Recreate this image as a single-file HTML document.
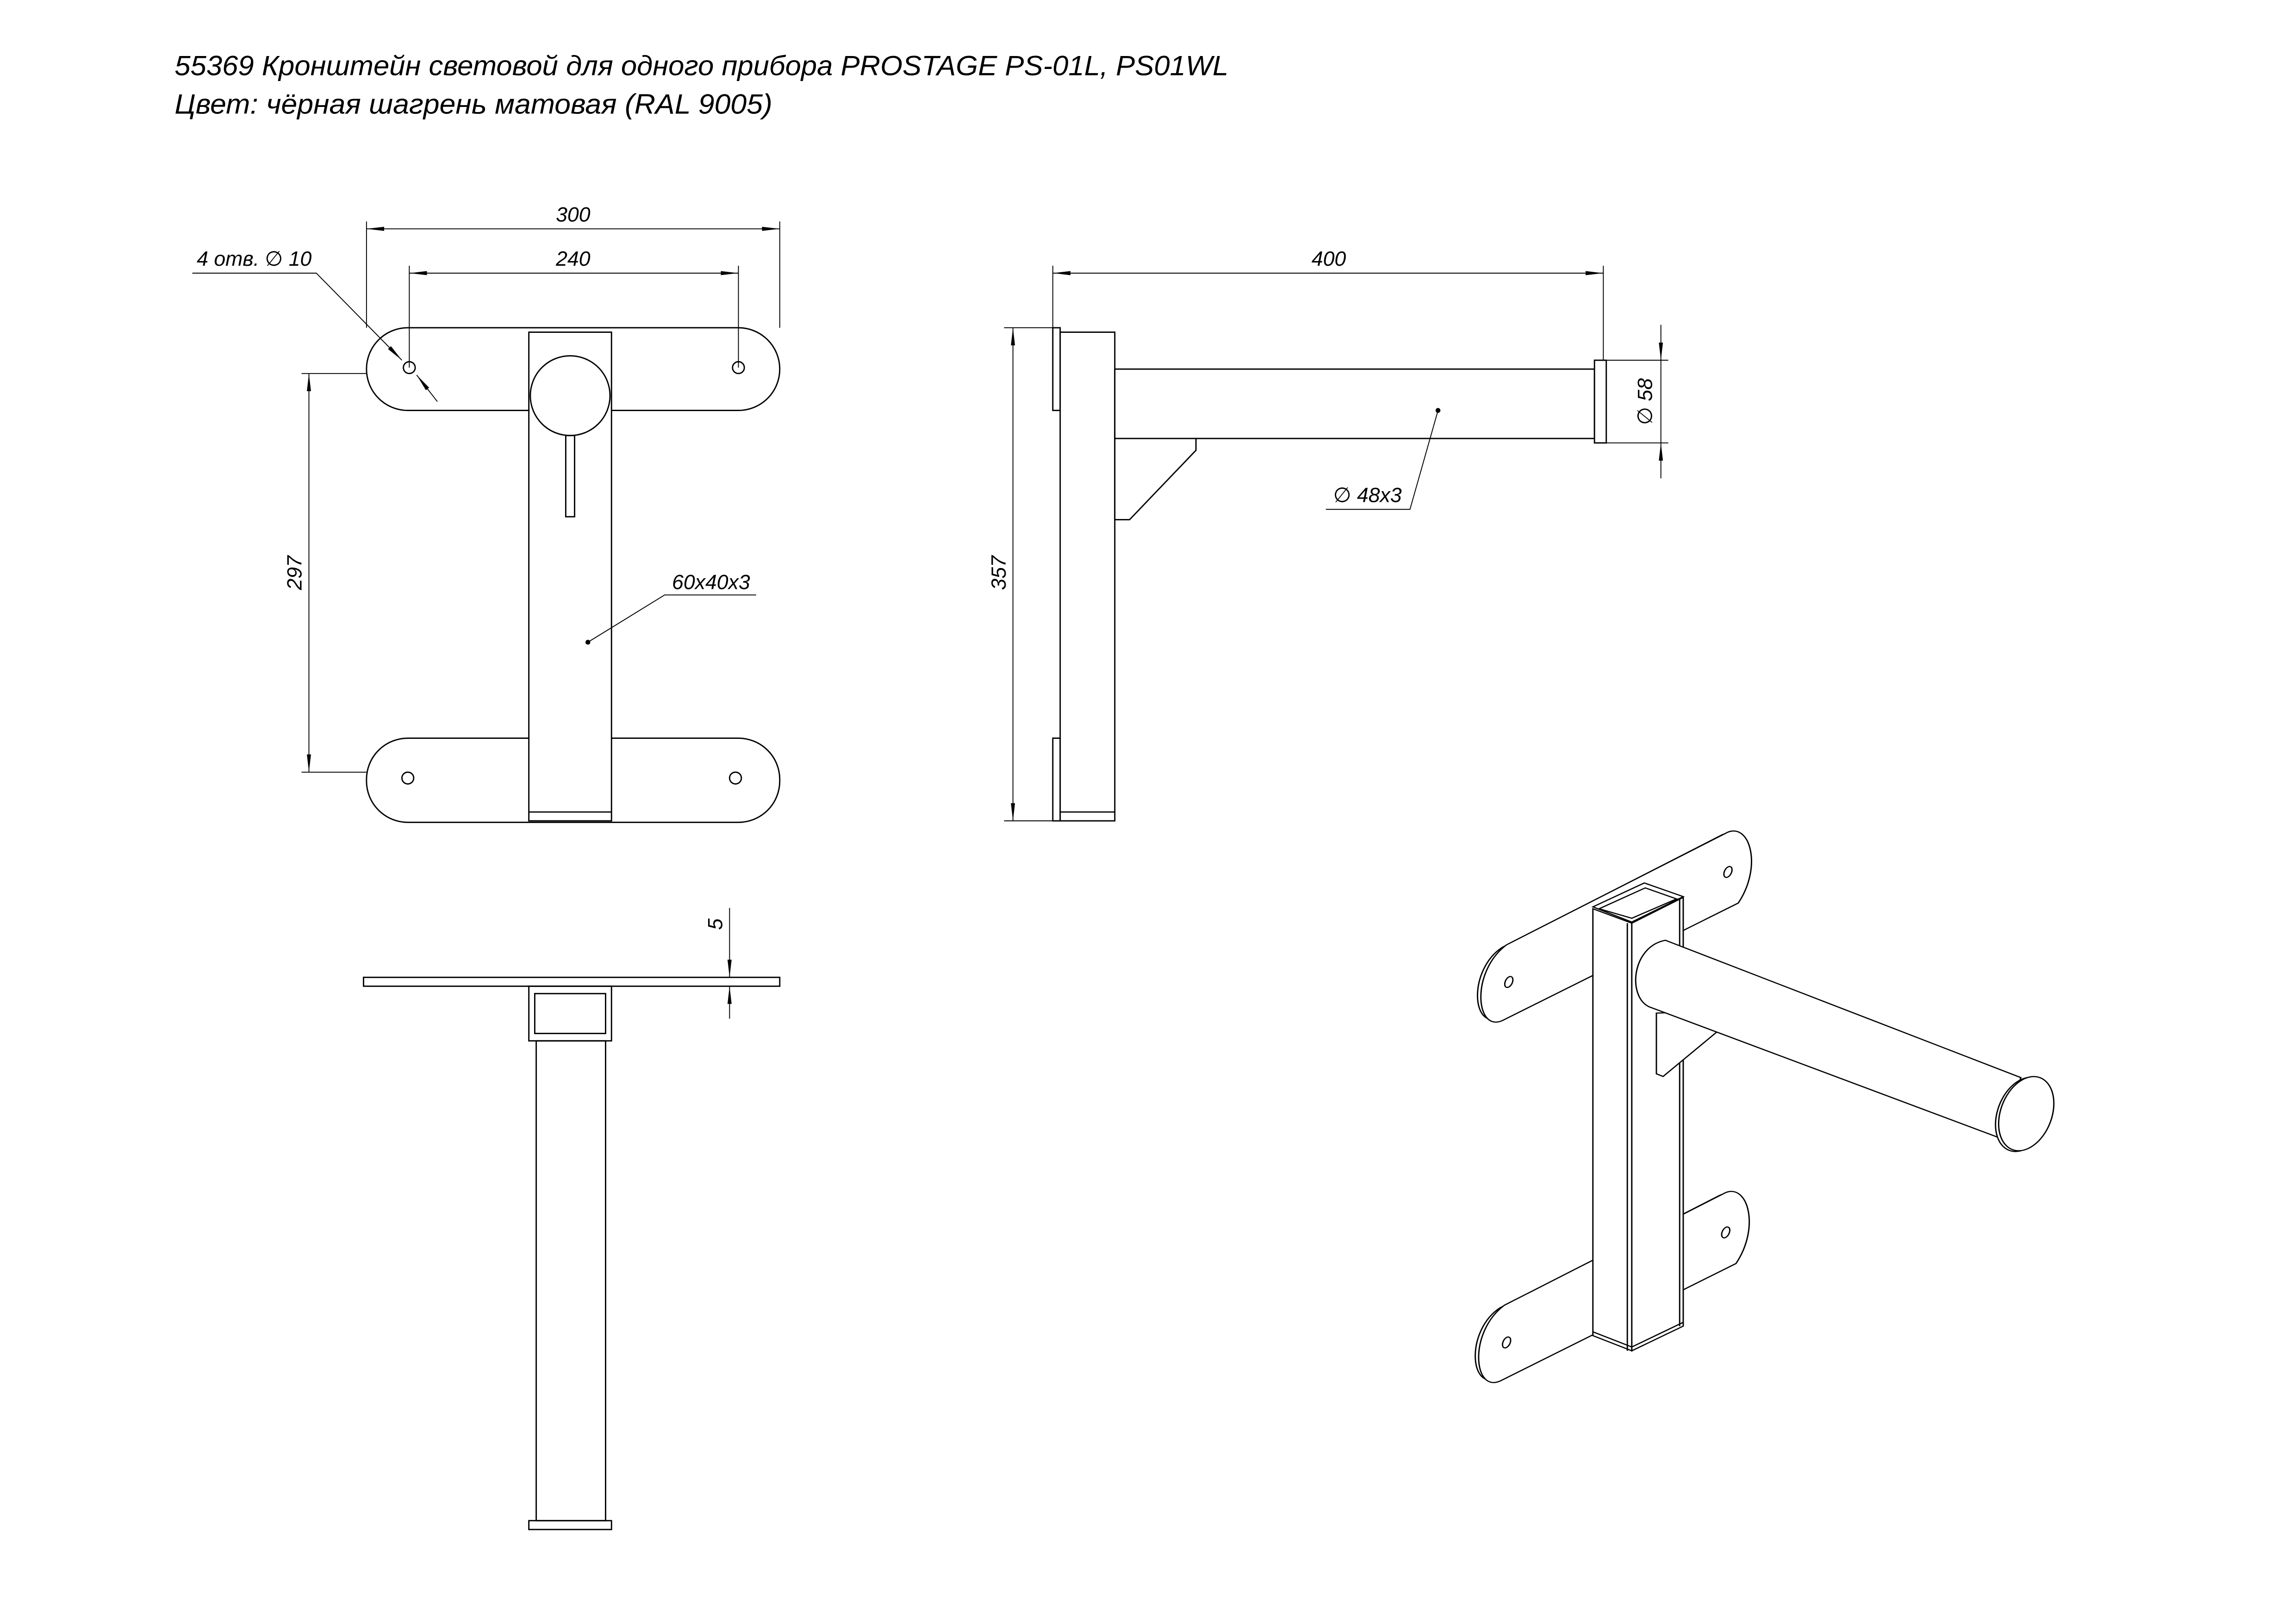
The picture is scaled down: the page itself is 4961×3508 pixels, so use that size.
<!DOCTYPE html>
<html><head><meta charset="utf-8"><style>
html,body{margin:0;padding:0;background:#fff;}
svg{display:block;}
text{font-family:"Liberation Sans","DejaVu Sans",sans-serif;font-style:italic;fill:#000;}
</style></head><body>
<svg width="4961" height="3508" viewBox="0 0 1555 1100" xmlns="http://www.w3.org/2000/svg">
<defs>
<marker id="a" viewBox="0 0 12 4" refX="12" refY="2" markerWidth="12" markerHeight="4" markerUnits="userSpaceOnUse" orient="auto-start-reverse"><path d="M0,0.6 L12,2 L0,3.4 Z" fill="#000"/></marker>
</defs>
<rect width="1555" height="1100" fill="#fff"/>
<text x="118" y="51" font-size="19" textLength="714" lengthAdjust="spacingAndGlyphs">55369 Кронштейн световой для одного прибора PROSTAGE PS-01L, PS01WL</text>
<text x="118" y="77" font-size="19" textLength="405" lengthAdjust="spacingAndGlyphs">Цвет: чёрная шагрень матовая (RAL 9005)</text>

<g fill="none" stroke="#000" stroke-width="0.9">
<rect x="248" y="222" width="280" height="56" rx="28" fill="#fff"/>
<rect x="248" y="500" width="280" height="57" rx="28" fill="#fff"/>
<circle cx="277" cy="249" r="4"/><circle cx="500" cy="249" r="4"/>
<circle cx="276" cy="527" r="4"/><circle cx="498" cy="527" r="4"/>
<rect x="358" y="225" width="56" height="331" fill="#fff"/>
<line x1="358" y1="550" x2="414" y2="550"/>
<circle cx="386" cy="268" r="27" fill="#fff"/>
<rect x="383" y="295" width="6" height="55"/>
<line x1="248" y1="150" x2="248" y2="222" stroke-width="0.6"/>
<line x1="528" y1="150" x2="528" y2="222" stroke-width="0.6"/>
<line x1="248" y1="155" x2="528" y2="155" stroke-width="0.6" marker-start="url(#a)" marker-end="url(#a)"/>
<line x1="277" y1="180" x2="277" y2="249" stroke-width="0.6"/>
<line x1="500" y1="180" x2="500" y2="249" stroke-width="0.6"/>
<line x1="277" y1="185" x2="500" y2="185" stroke-width="0.6" marker-start="url(#a)" marker-end="url(#a)"/>
<line x1="204" y1="253" x2="248" y2="253" stroke-width="0.6"/>
<line x1="204" y1="523" x2="248" y2="523" stroke-width="0.6"/>
<line x1="209" y1="253" x2="209" y2="523" stroke-width="0.6" marker-start="url(#a)" marker-end="url(#a)"/>
<polyline points="130,185 214,185 272,244" stroke-width="0.6" marker-end="url(#a)"/>
<line x1="296" y1="272" x2="282" y2="254" stroke-width="0.6" marker-end="url(#a)"/>
<polyline points="398,435 450,403 512,403" stroke-width="0.6"/>
<circle cx="398" cy="435" r="1.2" fill="#000"/>

<rect x="713" y="222" width="5" height="56"/>
<rect x="713" y="500" width="5" height="56"/>
<rect x="718" y="225" width="37" height="331" fill="#fff"/>
<line x1="718" y1="550" x2="755" y2="550"/>
<polygon points="755,293 810,293 810,305 765,352 755,352" fill="#fff"/>
<rect x="755" y="250" width="325" height="47" fill="#fff"/>
<rect x="1080" y="244" width="8" height="56" fill="#fff"/>
<line x1="713" y1="180" x2="713" y2="222" stroke-width="0.6"/>
<line x1="1086" y1="180" x2="1086" y2="244" stroke-width="0.6"/>
<line x1="713" y1="185" x2="1086" y2="185" stroke-width="0.6" marker-start="url(#a)" marker-end="url(#a)"/>
<line x1="680" y1="222" x2="713" y2="222" stroke-width="0.6"/>
<line x1="680" y1="556" x2="713" y2="556" stroke-width="0.6"/>
<line x1="686" y1="222" x2="686" y2="556" stroke-width="0.6" marker-start="url(#a)" marker-end="url(#a)"/>
<line x1="1088" y1="244" x2="1130" y2="244" stroke-width="0.6"/>
<line x1="1088" y1="300" x2="1130" y2="300" stroke-width="0.6"/>
<line x1="1125" y1="220" x2="1125" y2="244" stroke-width="0.6" marker-end="url(#a)"/>
<line x1="1125" y1="324" x2="1125" y2="300" stroke-width="0.6" marker-end="url(#a)"/>
<line x1="1125" y1="244" x2="1125" y2="300" stroke-width="0.6"/>
<polyline points="974,278 955,345 898,345" stroke-width="0.6"/>
<circle cx="974" cy="278" r="1.2" fill="#000"/>

<rect x="246" y="662" width="282" height="6"/>
<rect x="358" y="668" width="56" height="37"/>
<rect x="362" y="673" width="48" height="27"/>
<rect x="363" y="705" width="47" height="325"/>
<rect x="358" y="1030" width="56" height="6"/>
<line x1="500" y1="662" x2="528" y2="662" stroke-width="0.6"/>
<line x1="500" y1="668" x2="528" y2="668" stroke-width="0.6"/>
<line x1="494" y1="615" x2="494" y2="662" stroke-width="0.6" marker-end="url(#a)"/>
<line x1="494" y1="690" x2="494" y2="668" stroke-width="0.6" marker-end="url(#a)"/>
</g>

<text x="388" y="150" font-size="14" text-anchor="middle">300</text>
<text x="388" y="180" font-size="14" text-anchor="middle">240</text>
<text x="133" y="180" font-size="14">4 отв. ∅ 10</text>
<text transform="translate(204,388) rotate(-90)" font-size="14" text-anchor="middle">297</text>
<text x="455" y="399" font-size="14">60x40x3</text>
<text x="900" y="180" font-size="14" text-anchor="middle">400</text>
<text transform="translate(681,388) rotate(-90)" font-size="14" text-anchor="middle">357</text>
<text transform="translate(1119,272) rotate(-90)" font-size="14" text-anchor="middle">∅ 58</text>
<text x="903" y="340" font-size="14">∅ 48x3</text>
<text transform="translate(489,626) rotate(-90)" font-size="14" text-anchor="middle">5</text>

<g transform="translate(975,559) scale(0.303,0.257)" fill="#fff" stroke="#000" stroke-width="3">
<path d="M140,322 L632,25 C680,0 712,100 662,200 L135,508 C70,540 65,380 140,322 Z"/>
<path d="M150,315 L645,18 C695,-5 722,110 668,205 L140,515 C80,545 70,385 150,315 Z"/>
<ellipse cx="645" cy="123" rx="8" ry="15" transform="rotate(20 645 123)"/>
<ellipse cx="155" cy="413" rx="8" ry="15" transform="rotate(20 155 413)"/>
<g transform="translate(-5,950)">
<path d="M140,322 L632,25 C680,0 712,100 662,200 L135,508 C70,540 65,380 140,322 Z"/>
<path d="M150,315 L645,18 C695,-5 722,110 668,205 L140,515 C80,545 70,385 150,315 Z"/>
<ellipse cx="645" cy="123" rx="8" ry="15" transform="rotate(20 645 123)"/>
<ellipse cx="155" cy="413" rx="8" ry="15" transform="rotate(20 155 413)"/>
</g>
<polygon points="343,220 430,258 430,1385 343,1345"/>
<polygon points="430,258 545,190 545,1320 430,1385"/>
<line x1="420" y1="258" x2="420" y2="1385"/>
<line x1="537" y1="195" x2="537" y2="1320"/>
<line x1="343" y1="1335" x2="430" y2="1375"/>
<line x1="430" y1="1375" x2="545" y2="1310"/>
<polygon points="343,215 458,152 545,188 430,255"/>
<polygon points="357,220 460,165 530,194 430,245"/>
<polygon points="485,495 485,655 500,662 625,540 610,490"/>
<path d="M505,303 L1300,665 L1255,825 L468,478 C420,450 430,320 505,303 Z"/>
<ellipse cx="1305" cy="762" rx="58" ry="100" transform="rotate(15 1305 762)"/>
<ellipse cx="1312" cy="760" rx="58" ry="100" transform="rotate(15 1312 760)"/>
</g>
</svg>
</body></html>
